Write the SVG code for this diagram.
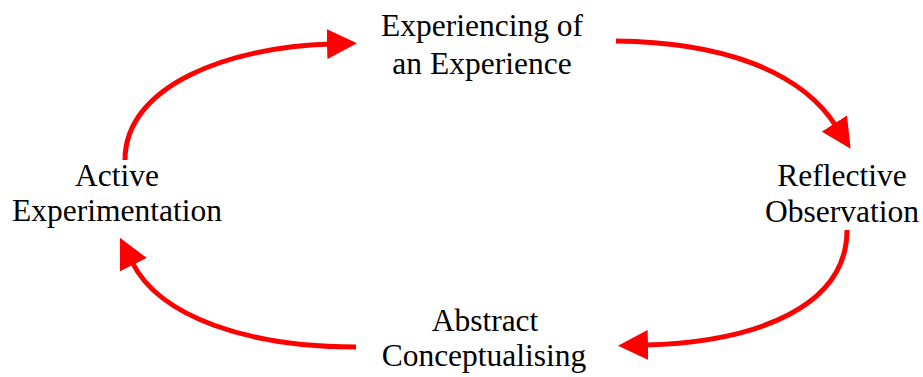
<svg xmlns="http://www.w3.org/2000/svg" width="923" height="377" viewBox="0 0 923 377">
  <defs>
    <marker id="head" viewBox="0 0 10 10" refX="1" refY="5" markerWidth="6" markerHeight="6" markerUnits="strokeWidth" orient="auto">
      <path d="M0,0 L10,5 L0,10 Z" fill="#ff0000"/>
    </marker>
  </defs>
  <style>
    .lbl { font-family: "Liberation Serif", "Times New Roman", serif; font-size: 31.5px; fill: #000; text-anchor: middle; }
    .arc { fill: none; stroke: #ff0000; stroke-width: 5; marker-end: url(#head); }
  </style>
  <rect width="923" height="377" fill="#fff"/>
  <g id="connectors">
    <path class="arc" d="M125,160 C125,85 230,47 330,44"/>
    <path class="arc" d="M616,41 C720,42 800,70 836,126"/>
    <path class="arc" d="M847,230 C847,305 760,342 645,345"/>
    <path class="arc" d="M356,347 C250,347 160,318 132,262"/>
  </g>
  <g id="experiencing">
    <text class="lbl" x="482" y="36">Experiencing of</text>
    <text class="lbl" x="482" y="74">an Experience</text>
  </g>
  <g id="reflective">
    <text class="lbl" x="842" y="186">Reflective</text>
    <text class="lbl" x="842" y="222">Observation</text>
  </g>
  <g id="abstract">
    <text class="lbl" x="485" y="331">Abstract</text>
    <text class="lbl" x="484" y="366">Conceptualising</text>
  </g>
  <g id="active">
    <text class="lbl" x="117" y="186">Active</text>
    <text class="lbl" x="117" y="221">Experimentation</text>
  </g>
</svg>
